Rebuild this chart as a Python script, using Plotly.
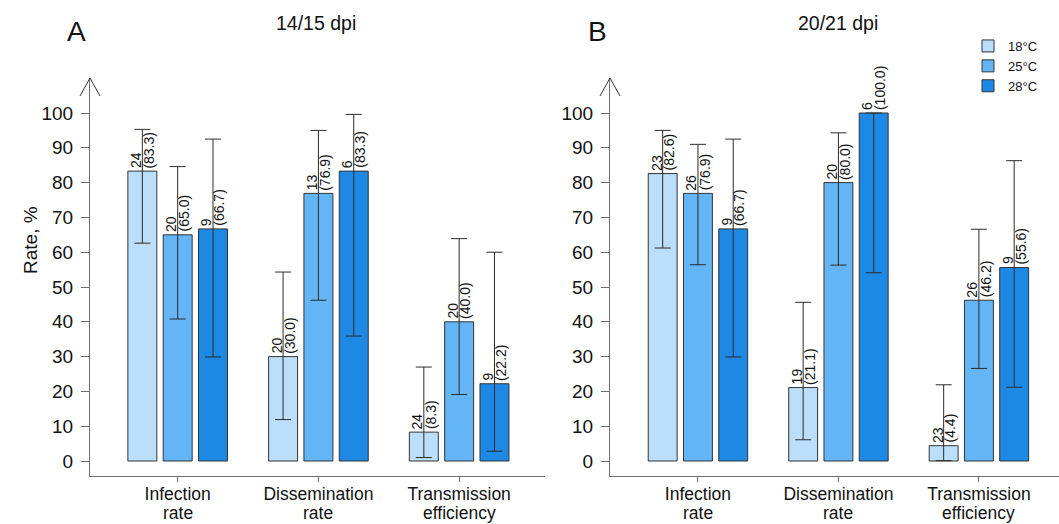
import plotly.graph_objects as go

W, H = 1059, 524

cat_line1 = ["Infection", "Dissemination", "Transmission"]
cat_line2 = ["rate", "rate", "efficiency"]
temps = ["18°C", "25°C", "28°C"]
colors = ["#BBDEFB", "#64B5F6", "#1E88E5"]

# Panel A: 14/15 dpi  (rows = temperature, columns = category)
a_rate = [[83.3, 30.0, 8.3], [65.0, 76.9, 40.0], [66.7, 83.3, 22.2]]
a_lo = [[62.6, 11.9, 1.0], [40.8, 46.2, 19.1], [29.9, 35.9, 2.8]]
a_hi = [[95.3, 54.3, 27.0], [84.6, 95.0, 63.9], [92.5, 99.6, 60.0]]
a_n = [[24, 20, 24], [20, 13, 20], [9, 6, 9]]

# Panel B: 20/21 dpi
b_rate = [[82.6, 21.1, 4.4], [76.9, 80.0, 46.2], [66.7, 100.0, 55.6]]
b_lo = [[61.2, 6.1, 0.1], [56.4, 56.3, 26.6], [29.9, 54.1, 21.2]]
b_hi = [[95.0, 45.6, 21.9], [91.0, 94.3, 66.6], [92.5, 100.0, 86.3]]
b_n = [[23, 19, 23], [26, 20, 26], [9, 6, 9]]

yticks = list(range(0, 101, 10))

FONT = "Arial, 'Liberation Sans', sans-serif"
AXC = "#6e6e6e"
CATSIZE = 17.5

def px(x):
    return x / W

def py(y):
    return (H - y) / H

fig = go.Figure()
annotations = []
offsets = [-0.25, 0.0, 0.25]

panels = [
    ("x", "y", a_rate, a_lo, a_hi, a_n, True),
    ("x2", "y2", b_rate, b_lo, b_hi, b_n, False),
]
for xa, ya, rate, lo, hi, n, showleg in panels:
    for t in range(3):
        fig.add_trace(go.Bar(
            x=cat_line1, y=rate[t], name=temps[t],
            xaxis=xa, yaxis=ya,
            marker=dict(color=colors[t], line=dict(color="#333333", width=1)),
            error_y=dict(type="data", symmetric=False,
                         array=[h - r for h, r in zip(hi[t], rate[t])],
                         arrayminus=[r - l for r, l in zip(rate[t], lo[t])],
                         color="#2b2b2b", thickness=1, width=8),
            showlegend=showleg, legendgroup=temps[t],
        ))
        for c in range(3):
            for txt, sh in ((str(n[t][c]), -6.5), ("(%.1f)" % rate[t][c], 6.5)):
                annotations.append(dict(
                    x=c + offsets[t], y=rate[t][c], xref=xa, yref=ya,
                    text=txt, showarrow=False, textangle=-90,
                    xanchor="center", yanchor="bottom", xshift=sh, yshift=1,
                    font=dict(size=14, color="#111111", family=FONT),
                ))
    # second line of the category labels
    for c in range(3):
        annotations.append(dict(
            x=c, y=py(513), xref=xa, yref="paper", text=cat_line2[c],
            showarrow=False, xanchor="center", yanchor="middle",
            font=dict(size=CATSIZE, color="#111111", family=FONT)))

ydom = [py(476), py(78)]
yrange = [-4.31, 110.06]
common_y = dict(range=yrange, tickvals=yticks, ticks="outside", ticklen=8,
                tickcolor=AXC, showline=True, linecolor=AXC, linewidth=1,
                showgrid=False, zeroline=False, domain=ydom,
                tickfont=dict(size=19, color="#111111", family=FONT),
                ticklabelstandoff=4)
common_x = dict(type="category", ticks="outside", ticklen=5, tickcolor=AXC,
                showline=True, linecolor=AXC, linewidth=1, showgrid=False,
                zeroline=False, ticklabelstandoff=-3,
                tickfont=dict(size=CATSIZE, color="#111111", family=FONT))

fig.update_layout(
    width=W, height=H,
    margin=dict(l=0, r=0, t=0, b=0),
    paper_bgcolor="white", plot_bgcolor="white",
    barmode="group", bargap=0.247, bargroupgap=0.18,
    font=dict(family=FONT, color="#111111"),
    xaxis=dict(domain=[px(90), px(545)], range=[-0.623, 2.61], anchor="y", **common_x),
    yaxis=dict(anchor="x", **common_y),
    xaxis2=dict(domain=[px(610), 1.0], range=[-0.626, 2.57], anchor="y2", **common_x),
    yaxis2=dict(anchor="x2", **common_y),
    legend=dict(x=px(968), y=py(31), xanchor="left", yanchor="top",
                font=dict(size=13, family=FONT, color="#111111"),
                bgcolor="rgba(0,0,0,0)", tracegroupgap=0, itemwidth=30),
)

# titles and panel letters
for x, txt, size in ((316, "14/15 dpi", 19.5), (838, "20/21 dpi", 19.5),
                     (76, "A", 28), (597, "B", 28)):
    annotations.append(dict(x=px(x), y=py(23 if size < 20 else 32), xref="paper", yref="paper",
                            text=txt, showarrow=False, xanchor="center", yanchor="middle",
                            font=dict(size=size, family=FONT, color="#111111")))
annotations.append(dict(x=px(30), y=py(240), xref="paper", yref="paper", text="Rate, %",
                        showarrow=False, textangle=-90, xanchor="center", yanchor="middle",
                        font=dict(size=19, family=FONT, color="#111111")))
fig.update_layout(annotations=annotations)

# open arrow heads on top of the y axes
shapes = []
for ax in (90, 610):
    path = "M %f %f L %f %f L %f %f" % (px(ax - 10), py(96), px(ax), py(78), px(ax + 10), py(96))
    shapes.append(dict(type="path", path=path, xref="paper", yref="paper",
                       line=dict(color="#333333", width=1)))
fig.update_layout(shapes=shapes)

fig.write_html("out.html", config={"displayModeBar": False},
               post_script="document.body.style.margin='0';document.body.style.overflow='hidden';")
